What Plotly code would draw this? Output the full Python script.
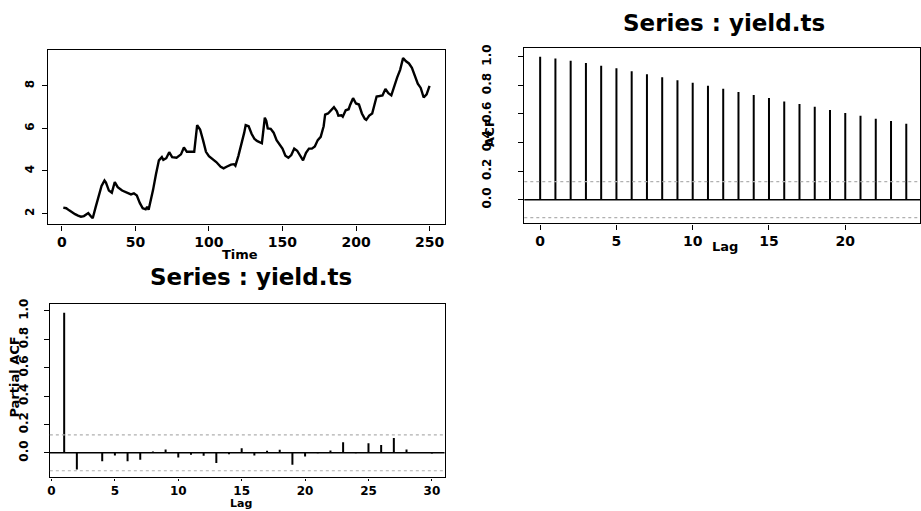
import plotly.graph_objects as go

# ---------------- data ----------------
time_idx = [1, 3, 5, 7, 9, 11, 13, 15, 17, 18, 20, 21, 23, 25, 27, 29, 30, 32, 34, 36, 38, 41, 44, 47, 49,
            51, 53, 55, 57, 58, 59, 60, 62, 64, 66, 68, 69, 71, 73, 75, 78, 81, 83, 85, 88, 90, 92, 94, 96,
            98, 100, 102, 105, 108, 110, 112, 115, 117, 118, 120, 122, 124, 125, 127, 129, 131, 133, 135,
            136, 137, 138, 139, 140, 142, 144, 146, 148, 150, 152, 154, 156, 158, 160, 162, 164, 166, 168,
            170, 172, 174, 176, 178, 179, 181, 183, 185, 187, 188, 190, 191, 193, 195, 196, 198, 200, 202,
            204, 206, 207, 209, 211, 212, 214, 216, 218, 220, 222, 224, 226, 228, 230, 232, 234, 236, 238,
            240, 242, 244, 246, 248, 250]
yield_vals = [2.28, 2.25, 2.15, 2.05, 1.97, 1.90, 1.85, 1.88, 2.00, 2.02, 1.85, 1.78, 2.30, 2.85, 3.30,
              3.55, 3.45, 3.08, 2.98, 3.48, 3.24, 3.08, 2.98, 2.90, 2.95, 2.85, 2.50, 2.25, 2.20, 2.32,
              2.18, 2.45, 3.10, 3.85, 4.50, 4.65, 4.52, 4.60, 4.88, 4.65, 4.62, 4.78, 5.10, 4.90, 4.90,
              4.90, 6.15, 5.95, 5.45, 4.90, 4.70, 4.60, 4.42, 4.20, 4.12, 4.20, 4.30, 4.32, 4.25, 4.70,
              5.20, 5.80, 6.15, 6.10, 5.75, 5.50, 5.40, 5.35, 5.30, 5.90, 6.50, 6.35, 6.00, 5.98, 5.80,
              5.45, 5.25, 5.05, 4.72, 4.62, 4.75, 5.05, 4.95, 4.75, 4.50, 4.85, 5.05, 5.05, 5.15, 5.45,
              5.60, 6.10, 6.65, 6.70, 6.85, 7.00, 6.80, 6.60, 6.62, 6.55, 6.85, 6.90, 7.10, 7.42, 7.17,
              7.12, 6.70, 6.45, 6.40, 6.60, 6.70, 7.00, 7.50, 7.52, 7.55, 7.85, 7.65, 7.55, 8.00, 8.40,
              8.75, 9.30, 9.15, 9.05, 8.85, 8.50, 8.10, 7.90, 7.45, 7.60, 8.00]

acf_lags = list(range(0, 25))
acf_vals = [1.000, 0.988, 0.972, 0.956, 0.938, 0.919, 0.898, 0.878, 0.857, 0.836, 0.818, 0.797, 0.776,
            0.753, 0.732, 0.711, 0.688, 0.670, 0.651, 0.628, 0.607, 0.587, 0.566, 0.550, 0.531]

pacf_lags = list(range(1, 31))
pacf_vals = [0.988, -0.118, 0.004, -0.060, -0.018, -0.060, -0.048, 0.009, 0.023, -0.032,
             -0.014, -0.020, -0.072, -0.010, 0.032, -0.018, 0.014, 0.021, -0.083, -0.025,
             -0.003, 0.016, 0.074, -0.002, 0.067, 0.055, 0.104, 0.023, 0.002, -0.004]

conf_bound = 0.126
title_text = "Series : yield.ts"

# ---------------- figure ----------------
W, H = 921, 511
FONT = "DejaVu Sans"
fig = go.Figure()


def stems(xs, ys):
    sx, sy = [], []
    for x, y in zip(xs, ys):
        sx += [x, x, None]
        sy += [0, y, None]
    return sx, sy


# panel 1: time series
fig.add_trace(go.Scatter(x=time_idx, y=yield_vals, mode="lines",
                         line=dict(color="black", width=2.4), xaxis="x", yaxis="y",
                         showlegend=False, hoverinfo="skip"))

# panel 2: ACF
ax, ay = stems(acf_lags, acf_vals)
fig.add_trace(go.Scatter(x=ax, y=ay, mode="lines", line=dict(color="black", width=2),
                         xaxis="x2", yaxis="y2", showlegend=False, hoverinfo="skip"))
# panel 3: PACF
px_, py_ = stems(pacf_lags, pacf_vals)
fig.add_trace(go.Scatter(x=px_, y=py_, mode="lines", line=dict(color="black", width=2),
                         xaxis="x3", yaxis="y3", showlegend=False, hoverinfo="skip"))

shapes = []
for xr, yr in (("x2", "y2"), ("x3", "y3")):
    xdom = xr + " domain"
    shapes.append(dict(type="line", xref=xdom, yref=yr, x0=0, x1=1, y0=0, y1=0,
                       line=dict(color="black", width=1.5)))
    for b in (conf_bound, -conf_bound):
        shapes.append(dict(type="line", xref=xdom, yref=yr, x0=0, x1=1, y0=b, y1=b,
                           line=dict(color="#b0b0b0", width=1.2, dash="dot")))


def px2x(p):
    return p / W


def py2y(p):
    return 1 - p / H


base = dict(showgrid=False, zeroline=False, showline=True, mirror=True,
            linecolor="black", linewidth=1.4, ticks="outside",
            tickwidth=1, tickcolor="black")
xfont = dict(family=FONT, size=14, color="black", weight="bold")
yfont = dict(family=FONT, size=12, color="black", weight="bold")

fig.update_layout(
    width=W, height=H, margin=dict(l=0, r=0, t=0, b=0),
    paper_bgcolor="white", plot_bgcolor="white",
    font=dict(family=FONT, color="black"),
    shapes=shapes,
    xaxis=dict(domain=[px2x(45), px2x(443)], range=[-9.5, 260.2], anchor="y",
               tickvals=[0, 50, 100, 150, 200, 250], tickfont=xfont, ticklen=5, **base),
    yaxis=dict(domain=[py2y(221), py2y(45)], range=[1.49, 9.66], anchor="x",
               tickvals=[2, 4, 6, 8], tickangle=-90, ticklabelstandoff=3, ticklen=5,
               tickfont=yfont, **base),
    xaxis2=dict(domain=[px2x(523), px2x(920)], range=[-1.04, 24.9], anchor="y2",
                tickvals=[0, 5, 10, 15, 20], tickfont=xfont, ticklen=5, **base),
    yaxis2=dict(domain=[py2y(220), py2y(43)], range=[-0.166, 1.058], anchor="x2",
                tickvals=[0, 0.2, 0.4, 0.6, 0.8, 1.0], tickformat=".1f", tickangle=-90,
                ticklabelstandoff=22, ticklen=5, tickfont=yfont, **base),
    xaxis3=dict(domain=[px2x(47), px2x(443)], range=[-0.13, 31.0], anchor="y3",
                tickvals=[0, 5, 10, 15, 20, 25, 30], ticklen=2,
                tickfont=dict(family=FONT, size=12, color="black", weight="bold"), **base),
    yaxis3=dict(domain=[py2y(477), py2y(302)], range=[-0.173, 1.046], anchor="x3",
                tickvals=[0, 0.2, 0.4, 0.6, 0.8, 1.0], tickformat=".1f", tickangle=-90,
                ticklabelstandoff=11, ticklen=5, tickfont=yfont, **base),
)

ann_font = dict(family=FONT, size=13, color="black", weight="bold")
title_font = dict(family=FONT, size=23, color="black", weight="bold")
annotations = [
    dict(text="Time", x=px2x(238), y=py2y(251), font=ann_font),
    dict(text="Lag", x=px2x(724), y=py2y(243), font=ann_font),
    dict(text="Lag", x=px2x(239), y=py2y(503), font=dict(family=FONT, size=11, color="black", weight="bold")),
    dict(text="ACF", x=px2x(488), y=py2y(128), textangle=-90, font=ann_font),
    dict(text="Partial ACF", x=px2x(12), y=py2y(375), textangle=-90, font=ann_font),
    dict(text=title_text, x=px2x(723), y=py2y(17), font=title_font),
    dict(text=title_text, x=px2x(249), y=py2y(274), font=title_font),
]
for a in annotations:
    a.update(xref="paper", yref="paper", showarrow=False, xanchor="center", yanchor="middle")
fig.update_layout(annotations=annotations)

fig.write_html("out.html")
